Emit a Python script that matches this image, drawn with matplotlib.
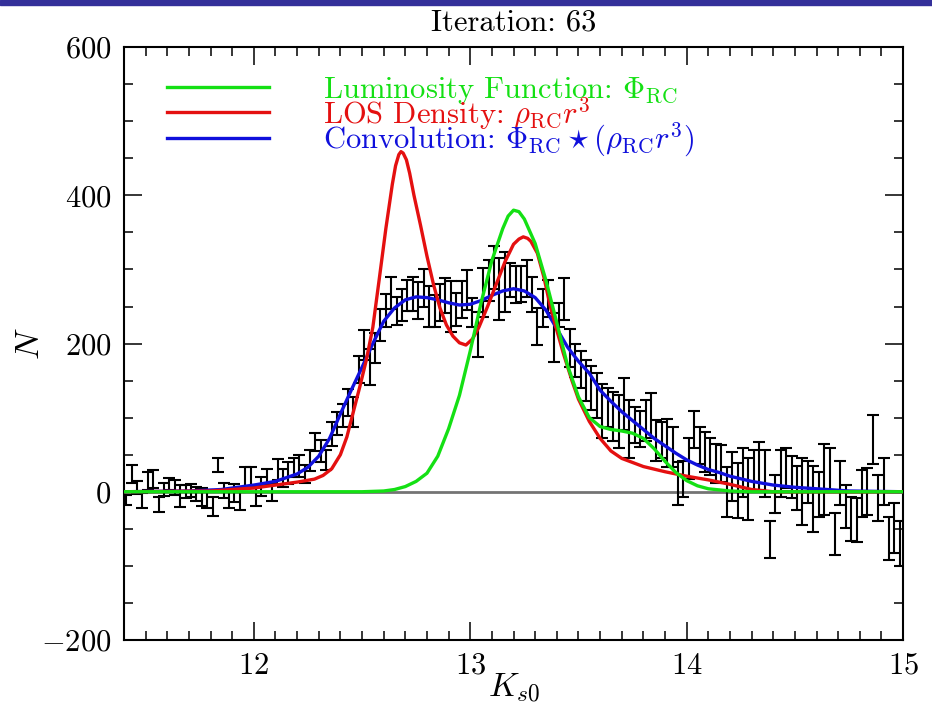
import numpy as np
import matplotlib
matplotlib.use('Agg')
import matplotlib.pyplot as plt
from matplotlib.patches import Rectangle
from matplotlib.ticker import MultipleLocator

plt.rcParams['font.family'] = 'serif'
plt.rcParams['font.serif'] = ['cmr10', 'DejaVu Serif']
plt.rcParams['mathtext.fontset'] = 'cm'
plt.rcParams['axes.formatter.use_mathtext'] = True

# binned star counts (bin centres every 0.025 mag from 11.41)
kmag = np.round(11.41 + 0.025 * np.arange(144), 3)

counts = [
    -11, 24, 6, -12, 14, 17, -17, 3, 11, 6,
    -6, 0, 2, -3, -7, -10, -20, 36, 2, -10,
    -2, -12, 19, 20, -5, 7, 20, 0, 30, 19,
    25, 33, 35, 24, 42, 67, 55, 43, 78, 92,
    103, 120, 108, 165, 198, 168, 194, 225, 245, 268,
    244,
    252, 265, 267, 258, 275, 250, 244, 255, 265, 250,
    246, 260, 272, 242, 212, 269, 285, 302, 274, 283,
    286, 280, 280, 288, 266, 223, 248, 261, 208, 239,
    260, 194, 177, 165, 150, 140, 130,
    109, 114, 102, 95, 119, 85, 90, 85, 96, 103,
    69, 70, 66, 61, 11, 17, 45, 84, 63, 53,
    48, 38, 38, 0, 20, 2, 26, 4, 30, 35,
    25, -65, -3, 25, 32, 20, 5, 0, 13, -10,
    -4, 17, 31, -57, 12, -20, -37, -38, -2, 0,
    71, -9, 14, -63, -49, -70,
]

errors = [
    7, 12, 9, 10, 12, 12, 10, 9, 8, 10,
    15, 9, 9, 10, 12, 12, 13, 10, 10, 12,
    12, 12, 14, 14, 14, 13, 11, 12, 14, 12,
    15, 13, 15, 12, 14, 12, 15, 14, 16, 16,
    15, 18, 20, 18, 20, 24, 20, 22, 22, 22,
    19,
    22, 21, 23, 25, 25, 27, 22, 25, 24, 35,
    22, 25, 27, 20, 30, 33, 28, 29, 42, 41,
    23, 25, 24, 25, 24, 25, 25, 25, 33, 16,
    28, 25, 22, 25, 28, 30, 30,
    36, 26, 33, 36, 35, 39, 24, 24, 28, 30,
    28, 24, 32, 27, 29, 24, 28, 25, 25, 27,
    25, 26, 25, 34, 33, 37, 33, 42, 27, 32,
    32, 25, 26, 32, 27, 28, 30, 45, 28, 45,
    30, 48, 28, 28, 30, 29, 30, 30, 32, 32,
    33, 31, 32, 29, 34, 30,
]

# luminosity function (green)
lf_k = [11.4, 12.5, 12.6, 12.65, 12.7, 12.75, 12.8, 12.85, 12.9, 12.95,
        13.0, 13.05, 13.1, 13.15, 13.175, 13.2, 13.225, 13.25, 13.3, 13.35,
        13.4, 13.45, 13.5, 13.55, 13.6, 13.65, 13.7, 13.75, 13.8, 13.85,
        13.9, 13.95, 14.0, 14.05, 14.1, 14.2, 14.3, 15.0]
lf_n = [0, 0, 1, 3, 7, 14, 25, 48, 85, 130,
        190, 255, 312, 355, 372, 380, 378, 368, 335, 285,
        228, 170, 128, 100, 88, 84, 82, 79, 72, 58,
        41, 26, 15, 8, 4, 1, 0, 0]

# line-of-sight density (red)
los_k = [11.4, 11.8, 11.9, 12.0, 12.1, 12.2, 12.28, 12.32, 12.36, 12.4,
         12.43, 12.46, 12.49, 12.52, 12.55, 12.58, 12.61, 12.64, 12.655, 12.67,
         12.68, 12.69, 12.705, 12.72, 12.74, 12.77, 12.8, 12.83, 12.86, 12.89,
         12.92, 12.95, 12.98, 13.01, 13.04, 13.08, 13.12, 13.16, 13.2, 13.225,
         13.245, 13.265, 13.28, 13.31, 13.34, 13.37, 13.4, 13.43, 13.47, 13.5,
         13.55, 13.6, 13.65, 13.7, 13.8, 13.9, 14.0, 14.1, 14.2, 14.3,
         14.4, 15.0]
los_n = [0, 1, 3, 5, 9, 13, 17, 22, 31, 50,
         74, 108, 142, 178, 222, 288, 355, 415, 440, 455,
         459, 457, 448, 430, 400, 360, 318, 280, 248, 225,
         210, 201, 198, 206, 222, 250, 280, 310, 334, 341,
         344, 342, 338, 322, 290, 250, 218, 187, 150, 125,
         95, 72, 55, 45, 34, 27, 21, 16, 10, 3,
         0, 0]

# convolution (blue)
conv_k = [11.4, 11.7, 11.85, 12.0, 12.1, 12.2, 12.25, 12.3, 12.35, 12.4,
          12.45, 12.5, 12.55, 12.6, 12.65, 12.7, 12.75, 12.8, 12.85, 12.9,
          12.95, 13.0, 13.05, 13.1, 13.15, 13.2, 13.25, 13.3, 13.35, 13.4,
          13.45, 13.5, 13.55, 13.6, 13.65, 13.7, 13.75, 13.8, 13.85, 13.9,
          13.95, 14.0, 14.05, 14.1, 14.15, 14.2, 14.3, 14.4, 14.5, 14.6,
          14.75, 15.0]
conv_n = [0, 1, 3, 9, 14, 24, 33, 48, 72, 105,
          137, 168, 200, 230, 248, 259, 263, 262, 259, 255,
          252, 253, 258, 265, 271, 274, 271, 262, 245, 220,
          195, 176, 160, 137, 122, 108, 96, 84, 72, 62,
          52, 43, 36, 30, 26, 21, 14, 9, 6, 4,
          1, 0]

green = '#14e014'
red = '#e41010'
blue = '#1010dc'

fig = plt.figure(figsize=(9.32, 7.04), dpi=100)
ax = fig.add_axes([0.133, 0.091, 0.836, 0.842])

# strip of the slide background at the very top
fig.patches.append(Rectangle((0, 1 - 5 / 704), 1, 5 / 704, transform=fig.transFigure,
                             color='#34309a', zorder=0))

ax.axhline(0, color='#747474', lw=2, zorder=1)
ax.errorbar(kmag, counts, yerr=errors, fmt='none', ecolor='black', elinewidth=1.5,
            capsize=4.5, capthick=1.5, zorder=2)

ax.plot(conv_k, conv_n, color=blue, lw=2.4, zorder=3,
        label=r'Convolution: $\Phi_{\rm RC}\star(\rho_{\rm RC}r^3)$')
ax.plot(los_k, los_n, color=red, lw=2.4, zorder=4,
        label=r'LOS Density: $\rho_{\rm RC}r^3$')
ax.plot(lf_k, lf_n, color=green, lw=2.4, zorder=5,
        label=r'Luminosity Function: $\Phi_{\rm RC}$')

handles, labels = ax.get_legend_handles_labels()
leg = ax.legend(handles[::-1], labels[::-1], loc='upper left', bbox_to_anchor=(0.055, 0.953),
                frameon=False, fontsize=22, handlelength=3.35, handletextpad=1.75,
                labelspacing=-0.36, borderpad=0, borderaxespad=0)
for txt, col in zip(leg.get_texts(), [green, red, blue]):
    txt.set_color(col)

ax.set_xlim(11.4, 15)
ax.set_ylim(-200, 600)
ax.xaxis.set_major_locator(MultipleLocator(1))
ax.xaxis.set_minor_locator(MultipleLocator(0.1))
ax.yaxis.set_major_locator(MultipleLocator(200))
ax.yaxis.set_minor_locator(MultipleLocator(50))
ax.tick_params(which='both', direction='in', top=True, right=True, width=1.1,
               labelsize=22, pad=9)
ax.tick_params(which='major', length=13)
ax.tick_params(which='minor', length=6.5)
for sp in ax.spines.values():
    sp.set_linewidth(1.5)

ax.set_xlabel(r'$K_{s0}$', fontsize=24)
ax.set_ylabel(r'$N$', fontsize=25)
ax.xaxis.set_label_coords(0.5, -0.052)
ax.yaxis.set_label_coords(-0.100, 0.5)
ax.set_title('Iteration: 63', fontsize=22, pad=12)

fig.savefig('out.png', dpi=100)
